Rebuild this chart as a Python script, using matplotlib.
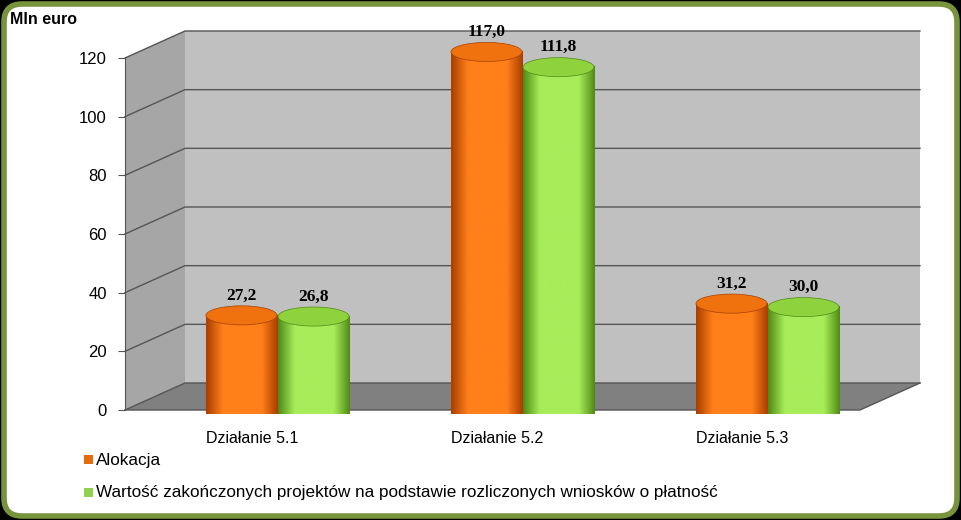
import matplotlib.pyplot as plt
import numpy as np
from matplotlib.patches import Polygon, Ellipse, FancyBboxPatch, Rectangle
from matplotlib.colors import LinearSegmentedColormap

categories = ['Działanie 5.1', 'Działanie 5.2', 'Działanie 5.3']
alokacja = [27.2, 117.0, 31.2]
wartosc = [26.8, 111.8, 30.0]
series_names = ['Alokacja',
                'Wartość zakończonych projektów na podstawie rozliczonych wniosków o płatność']
yticks = [0, 20, 40, 60, 80, 100, 120]

W, H = 961, 520
fig = plt.figure(figsize=(W/100, H/100), dpi=100, facecolor='black')

# tlo z ramka
bg = fig.add_axes([0, 0, 1, 1])
bg.set_xlim(0, W); bg.set_ylim(H, 0); bg.axis('off')
bg.add_patch(FancyBboxPatch((4, 4), W-8, H-8, boxstyle='round,pad=0,rounding_size=18',
                            fc='white', ec='#77933C', lw=4))
bg.text(10, 20, 'Mln euro', fontsize=11.5, fontweight='bold', family='Liberation Sans', va='center')

ax = fig.add_axes([125/W, (H-410)/H, 735/W, 352/H])
ax.set_xlim(0, 3); ax.set_ylim(0, 120)
ax.patch.set_alpha(0)
dx, dy = 60/245, 27/2.933

# sciany
ax.add_patch(Polygon([(dx, dy), (3+dx, dy), (3+dx, 120+dy), (dx, 120+dy)], fc='#C0C0C0', ec='none', clip_on=False, zorder=0))
ax.add_patch(Polygon([(0, 0), (dx, dy), (dx, 120+dy), (0, 120)], fc='#A6A6A6', ec='none', clip_on=False, zorder=0))
ax.add_patch(Polygon([(0, 0), (3, 0), (3+dx, dy), (dx, dy)], fc='#808080', ec='none', clip_on=False, zorder=0))
for v in yticks:
    ax.plot([0, dx, 3+dx], [v, v+dy, v+dy], color='#555555', lw=1, clip_on=False, zorder=1)
ax.plot([0, 3, 3+dx], [0, 0, dy], color='#555555', lw=1, clip_on=False, zorder=1)

def gradient_cmap(dark, light):
    return LinearSegmentedColormap.from_list('g', [dark, light, light, dark], N=256)

def cylinder(xc, val, w, dark, light, top):
    eh = 6.5
    y0 = 0.55*dy
    t = np.linspace(np.pi, 2*np.pi, 40)
    pts = [(xc - w/2, val)] + [(xc + w/2*np.cos(a), y0 + eh/2*np.sin(a)) for a in t] + [(xc + w/2, val)]
    body = Polygon(pts, fc='none', ec='none', clip_on=False)
    ax.add_patch(body)
    grad = np.concatenate([np.linspace(0, 0.5, 90), np.full(80, 0.5), np.linspace(0.5, 1, 86)])[None]
    im = ax.imshow(grad, cmap=gradient_cmap(dark, light), extent=[xc-w/2, xc+w/2, y0-eh, val+y0],
                   aspect='auto', zorder=3, clip_on=False)
    im.set_clip_path(body)
    body.set_xy([(x, y + (y0 if y >= val else 0)) for x, y in pts])
    ax.add_patch(Ellipse((xc, val+y0), w, eh, fc=top, ec=dark, lw=0.5, zorder=4, clip_on=False))
    ax.text(xc, val+y0+eh/2+0.8, f'{val:.1f}'.replace('.', ','), ha='center', va='bottom',
            fontsize=12.5, fontweight='bold', family='Liberation Serif', zorder=5)

w = 0.29
for i in range(len(categories)):
    c = i + 0.5 + dx/2
    cylinder(c - 0.147, alokacja[i], w, '#A83E00', '#FF7F1A', '#F0720F')
    cylinder(c + 0.147, wartosc[i], w, '#4F8A14', '#A8EC5A', '#8ED23E')
    ax.text(i + 0.52, -7, categories[i], ha='center', va='top', fontsize=11.5, family='Liberation Sans')

ax.set_xlim(0, 3); ax.set_ylim(0, 120)
ax.set_xticks([])
ax.set_yticks(yticks)
ax.set_yticklabels([str(v) for v in yticks], fontsize=12, family='Liberation Sans')
ax.tick_params(axis='y', length=5, color='#555555', pad=8)
for s in ['top', 'right', 'bottom']:
    ax.spines[s].set_visible(False)
ax.spines['left'].set_color('#555555')

# legenda
for j, (name, col) in enumerate(zip(series_names, ['#E46C0A', '#92D050'])):
    yy = 460 + j*33
    bg.add_patch(Rectangle((84, yy-5), 9, 9, fc=col, ec='none'))
    bg.text(96, yy, name, fontsize=12.3, family='Liberation Sans', va='center')

fig.savefig('out.png', dpi=100, facecolor='black')
